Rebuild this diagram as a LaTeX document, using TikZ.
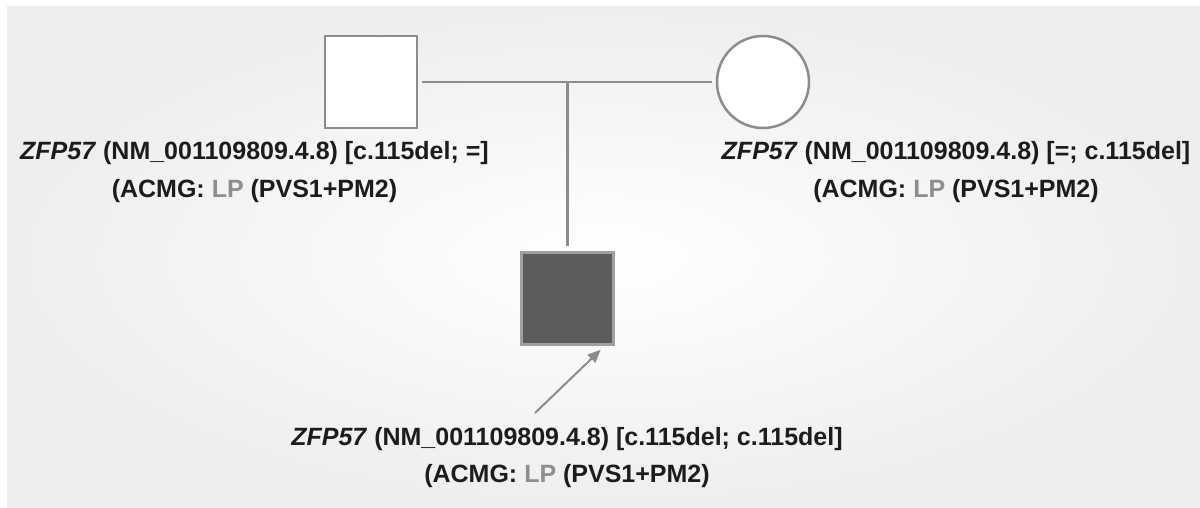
\documentclass[tikz,border=0pt]{standalone}
\usepackage{fontspec}
\setmainfont{Liberation Sans}
\usepackage{tikz}
\usetikzlibrary{
    positioning,
    arrows.meta
}
\definecolor{pedgray}{HTML}{8C8C8C}
\definecolor{affgray}{HTML}{5C5C5C}
\definecolor{affborder}{HTML}{A0A0A0}
\definecolor{lpgray}{HTML}{8E8E8E}
\definecolor{textblack}{HTML}{1C1C1C}
\definecolor{bggray}{HTML}{EEEEEE}
\tikzset{
    >=Stealth,
    individual/.style={
        draw=pedgray,
        line width=2.5pt,
        fill=white,
        minimum size=92pt,
        inner sep=0pt
    },
    male/.style={individual, rectangle},
    female/.style={individual, circle},
    affected/.style={fill=affgray, draw=affborder},
    pedline/.style={draw=pedgray, line width=2.5pt},
    genotype/.style={
        font=\fontsize{25}{30}\selectfont\bfseries,
        text=textblack,
        inner sep=0pt,
        anchor=base
    }
}

\begin{document}
\begin{tikzpicture}[
    x=1pt,
    y=-1pt,
    >=Stealth
]

    % Fondo
    \useasboundingbox (0,0) rectangle (1200,508);
    \fill[white] (0,0) rectangle (1200,508);
    \shade[inner color=white, outer color=bggray] (7,7) rectangle (1200,508);

    % Individuos
    % padre
    \node[male]           (father) at (371,82)      {};

    % madre
    \node[female]         (mother) at (763,82)      {};

    % hijo afectado (probando)
    \node[male, affected] (child)  at (567.5,298.5) {};

    % Union y descendencia
    \coordinate (sibship) at (child.north |- father.east);
    \path[pedline]
        (father)
            edge[shorten <=4pt, shorten >=4pt] (mother)
        (sibship)
            edge[shorten >=5pt] (child.north);

    % Flecha del probando
    \coordinate (pointer) at (535,413);
    \draw[pedline, line width=2pt, -{Triangle[length=13pt, width=11pt]}]
        (pointer) -- ([xshift=-14pt, yshift=-4pt]child.south east);

    % Genotipos
    \node[genotype] (fatherlbl)  at (254.5,160)
        {\textit{ZFP57} (NM\_001109809.4.8) [c.115del; =]};
    \node[genotype] (fatheracmg) at (254.5,197)
        {(ACMG: \textcolor{lpgray}{LP} (PVS1+PM2)};

    \node[genotype] (motherlbl)  at (956,160)
        {\textit{ZFP57} (NM\_001109809.4.8) [=; c.115del]};
    \node[genotype] (motheracmg) at (956,197)
        {(ACMG: \textcolor{lpgray}{LP} (PVS1+PM2)};

    \node[genotype] (childlbl)   at (567,445)
        {\textit{ZFP57} (NM\_001109809.4.8) [c.115del; c.115del]};
    \node[genotype] (childacmg)  at (567,482)
        {(ACMG: \textcolor{lpgray}{LP} (PVS1+PM2)};

\end{tikzpicture}
\end{document}
